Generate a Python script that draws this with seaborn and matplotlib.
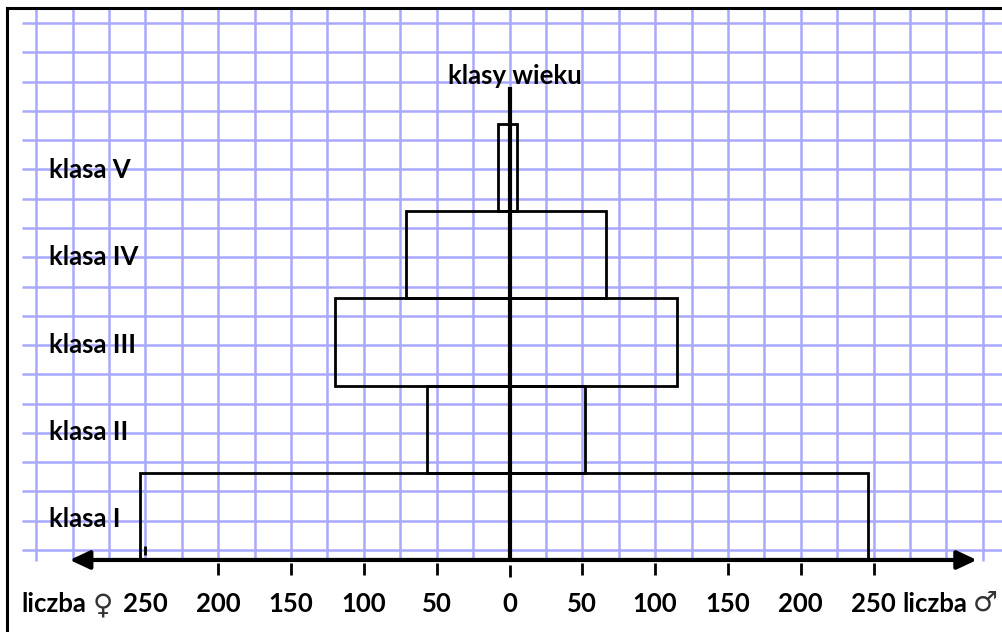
import matplotlib
matplotlib.use("Agg")
import matplotlib.pyplot as plt
import numpy as np
import pandas as pd
import seaborn as sns
from matplotlib.lines import Line2D

# data
classes = ["klasa I", "klasa II", "klasa III", "klasa IV", "klasa V"]
female = [254, 57, 120, 71, 8]
male = [246, 52, 115, 66, 5]
tick_values = [-250, -200, -150, -100, -50, 0, 50, 100, 150, 200, 250]

FONT = ["Lato", "DejaVu Sans"]
GRID = "#a8a8ff"
FS = 18.5

df = pd.DataFrame({"klasa": classes, "female": female, "male": male})

fig = plt.figure(figsize=(10.03, 6.32), dpi=100)
ax = fig.add_axes([0, 0, 1, 1])

# graph paper background
for gx in np.arange(-325, 326, 25):
    ax.vlines(gx, -0.511, 5.83, color=GRID, lw=1.8, zorder=0)
for k in range(19):
    gy = (560 - (23 + 29.28 * k)) / 87.2 - 0.5
    ax.hlines(gy, -335, 345, color=GRID, lw=1.8, zorder=0)

# pyramid bars (outline only)
sns.barplot(data=df, x=-df["female"], y="klasa", order=classes, orient="h",
            color="black", fill=False, linewidth=2, width=1, saturation=1,
            errorbar=None, ax=ax, zorder=2)
sns.barplot(data=df, x="male", y="klasa", order=classes, orient="h",
            color="black", fill=False, linewidth=2, width=1, saturation=1,
            errorbar=None, ax=ax, zorder=2)

ax.set_xlim(-349.9, 338.9)
ax.set_ylim(-1.326, 5.922)
ax.set_axis_off()

# axes
ax.vlines(0, -0.5, 4.92, color="black", lw=3, zorder=4)
ax.annotate("", xy=(-302, -0.5), xytext=(321, -0.5),
            arrowprops=dict(arrowstyle="<|-|>,head_length=0.6,head_width=0.28",
                            color="black", lw=3, mutation_scale=20,
                            shrinkA=0, shrinkB=0), zorder=4)

for t in tick_values:
    if t == -250:
        ax.vlines(t, -0.34, -0.44, color="black", lw=2, zorder=4)
    elif t == 0:
        ax.vlines(t, -0.557, -0.695, color="black", lw=2, zorder=4)
    else:
        ax.vlines(t, -0.534, -0.672, color="black", lw=2, zorder=4)
    ax.text(t, -1.005, str(abs(t)), ha="center", va="center",
            fontsize=FS, fontweight="bold", family=FONT)

# class labels
for i, c in enumerate(classes):
    ax.text(-316, i - 0.03, c, ha="left", va="center",
            fontsize=FS, fontweight="bold", family=FONT, zorder=5)

ax.text(4, 4.96, "klasy wieku", ha="center", va="baseline",
        fontsize=FS, fontweight="bold", family=FONT, zorder=5)

ax.text(-335, -1.005, "liczba", ha="left", va="center",
        fontsize=FS, fontweight="bold", family=FONT)
ax.text(-279.5, -1.02, "\u2640", ha="center", va="center",
        fontsize=20, family=["DejaVu Sans"], fontweight="normal", color="#333333")
ax.text(269.6, -1.005, "liczba", ha="left", va="center",
        fontsize=FS, fontweight="bold", family=FONT)
ax.text(326.5, -0.99, "\u2642", ha="center", va="center",
        fontsize=20, family=["DejaVu Sans"], fontweight="normal", color="#333333")

# frame (right and bottom edges are cut off in the original)
fig.add_artist(Line2D([7.5 / 1003, 7.5 / 1003], [0, 1 - 7.5 / 632],
                      transform=fig.transFigure, color="black", lw=2.2))
fig.add_artist(Line2D([7.5 / 1003, 1], [1 - 7.5 / 632, 1 - 7.5 / 632],
                      transform=fig.transFigure, color="black", lw=2.2))

fig.savefig("out.png", dpi=100)
